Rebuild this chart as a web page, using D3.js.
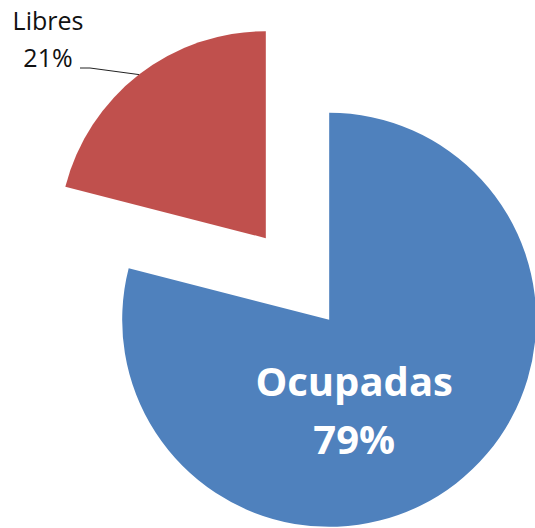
<!DOCTYPE html>
<html>
<head>
<meta charset="utf-8">
<script src="https://cdn.jsdelivr.net/npm/d3@7"></script>
<style>
  body { margin: 0; background: #fff; }
  svg { display: block; }
</style>
</head>
<body>
<div id="pie-chart"></div>
<script>
const width = 535;
const height = 528;
const categories = ["Ocupadas", "Libres"];
const values = [79, 21];
const colors = ["#4F81BD", "#C0504D"];

const center = { x: 297.5, y: 279 };
const radius = 207;
const explode = 51.7;

const svg = d3.select("#pie-chart")
    .append("svg")
    .attr("width", width)
    .attr("height", height);

const data = categories.map((c, i) => ({ name: c, value: values[i] }));

const pie = d3.pie()
    .sort(null)
    .value(d => d.value);

const arc = d3.arc()
    .innerRadius(0)
    .outerRadius(radius);

const arcs = pie(data);

// shift each slice out along its middle angle
const offset = d => {
    const a = (d.startAngle + d.endAngle) / 2;
    return [Math.sin(a) * explode, -Math.cos(a) * explode];
};

const slices = svg.selectAll("g.slice")
    .data(arcs)
    .enter()
    .append("g")
    .attr("class", "slice")
    .attr("transform", d => {
        const o = offset(d);
        return "translate(" + (center.x + o[0]) + "," + (center.y + o[1]) + ")";
    });

slices.append("path")
    .attr("fill", (d, i) => colors[i])
    .attr("d", arc);

// inside label for the big slice
const big = slices.filter(d => d.data.name === "Ocupadas");
const bigText = big.append("text")
    .attr("text-anchor", "middle")
    .attr("fill", "#fff")
    .attr("font-family", "'Open Sans', sans-serif")
    .attr("font-weight", "bold")
    .attr("font-size", 40);
bigText.append("tspan").attr("x", 25).attr("y", 76).text(d => d.data.name);
bigText.append("tspan").attr("x", 25).attr("y", 134).text(d => d.data.value + "%");

// outside label with leader line for the small slice
const small = arcs[1];
const so = offset(small);
const sx = center.x + so[0];
const sy = center.y + so[1];
const edgeAngle = (small.startAngle + small.endAngle) / 2;
const edge = [sx + Math.sin(edgeAngle) * radius, sy - Math.cos(edgeAngle) * radius];

svg.append("polyline")
    .attr("fill", "none")
    .attr("stroke", "#222")
    .attr("stroke-width", 1)
    .attr("points", [[80, 68], [90, 68], edge].map(p => p.join(",")).join(" "));

const smallText = svg.append("text")
    .attr("text-anchor", "middle")
    .attr("fill", "#111")
    .attr("font-family", "'Open Sans', sans-serif")
    .attr("font-size", 25);
smallText.append("tspan").attr("x", 48).attr("y", 30).text(small.data.name);
smallText.append("tspan").attr("x", 48).attr("y", 67).text(small.data.value + "%");
</script>
</body>
</html>
